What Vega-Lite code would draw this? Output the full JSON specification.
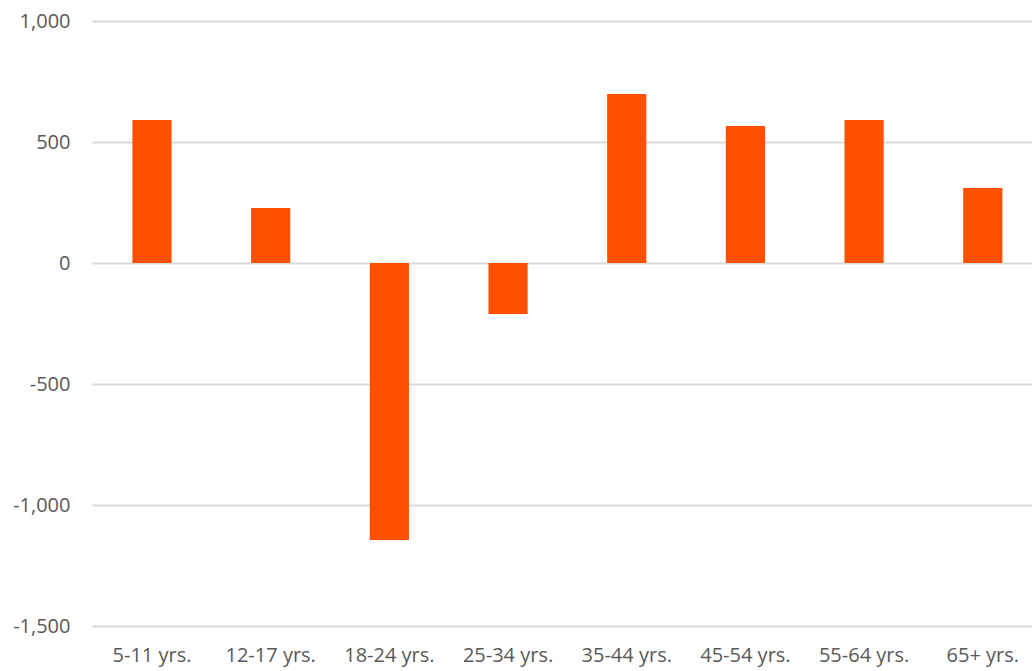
{
  "$schema": "https://vega.github.io/schema/vega-lite/v6.json",
  "autosize": {"type": "none"},
  "width": 940,
  "height": 605,
  "padding": {"left": 92, "top": 21, "right": 0, "bottom": 45},
  "background": "white",
  "config": {"view": {"stroke": null}, "font": "Open Sans"},
  "data": {"values": [
    {"age": "5-11 yrs.", "value": 591},
    {"age": "12-17 yrs.", "value": 227},
    {"age": "18-24 yrs.", "value": -1145},
    {"age": "25-34 yrs.", "value": -211},
    {"age": "35-44 yrs.", "value": 698},
    {"age": "45-54 yrs.", "value": 566},
    {"age": "55-64 yrs.", "value": 591},
    {"age": "65+ yrs.", "value": 310}
  ]},
  "mark": {"type": "bar", "color": "#FF5000"},
  "encoding": {
    "x": {
      "field": "age", "type": "nominal", "sort": null,
      "scale": {"paddingInner": 0.67, "paddingOuter": 0.295, "align": 0.577},
      "axis": {"title": null, "labelAngle": 0, "domain": false, "ticks": false,
        "labelFont": "Open Sans", "labelFontSize": 20, "labelColor": "#595959", "labelPadding": 19}
    },
    "y": {
      "field": "value", "type": "quantitative",
      "scale": {"domain": [-1500, 1000], "nice": false},
      "axis": {"title": null, "values": [-1500, -1000, -500, 0, 500, 1000],
        "labelExpr": "replace(format(datum.value, ',.0f'), '\u2212', '-')",
        "domain": false, "ticks": false, "gridColor": "#D9D9D9", "gridWidth": 2,
        "labelFont": "Open Sans", "labelFontSize": 20, "labelColor": "#595959", "labelPadding": 22}
    }
  }
}
